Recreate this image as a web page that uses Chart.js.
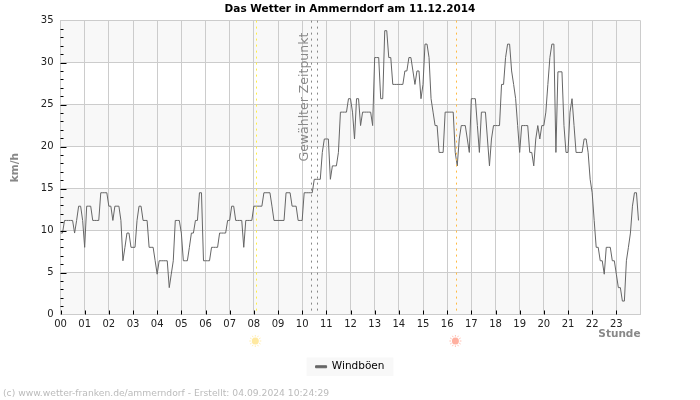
<!DOCTYPE html>
<html>
<head>
<meta charset="utf-8">
<title>Das Wetter in Ammerndorf</title>
<script src="https://cdn.jsdelivr.net/npm/chart.js@4/dist/chart.umd.min.js"></script>
<style>
  html, body { margin: 0; padding: 0; background: #fff; }
  #wrap { position: relative; width: 700px; height: 400px; }
</style>
</head>
<body>
<div id="wrap"><canvas id="myChart" width="700" height="400"></canvas></div>
<script>
// one value every 5 minutes, 12 per row = one hour
var gusts = [
  9.7, 9.7, 11.2, 11.2, 11.2, 11.2, 11.2, 9.7, 11.2, 12.9, 12.9, 11.2,
  8, 12.9, 12.9, 12.9, 11.2, 11.2, 11.2, 11.2, 14.5, 14.5, 14.5, 14.5,
  12.9, 12.9, 11.2, 12.9, 12.9, 12.9, 11.2, 6.4, 8, 9.7, 9.7, 8,
  8, 8, 11.2, 12.9, 12.9, 11.2, 11.2, 11.2, 8, 8, 8, 6.4,
  4.8, 6.4, 6.4, 6.4, 6.4, 6.4, 3.2, 4.8, 6.4, 11.2, 11.2, 11.2,
  9.7, 6.4, 6.4, 6.4, 8, 9.7, 9.7, 11.2, 11.2, 14.5, 14.5, 6.4,
  6.4, 6.4, 6.4, 8, 8, 8, 8, 9.7, 9.7, 9.7, 9.7, 11.2,
  11.2, 12.9, 12.9, 11.2, 11.2, 11.2, 11.2, 8, 11.2, 11.2, 11.2, 11.2,
  12.9, 12.9, 12.9, 12.9, 12.9, 14.5, 14.5, 14.5, 14.5, 12.9, 11.2, 11.2,
  11.2, 11.2, 11.2, 11.2, 14.5, 14.5, 14.5, 12.9, 12.9, 12.9, 11.2, 11.2,
  11.2, 14.5, 14.5, 14.5, 14.5, 14.5, 16.1, 16.1, 16.1, 16.1, 19.3, 20.9,
  20.9, 20.9, 16.1, 17.7, 17.7, 17.7, 19.3, 24.1, 24.1, 24.1, 24.1, 25.7,
  25.7, 24.1, 20.9, 25.7, 25.7, 22.5, 24.1, 24.1, 24.1, 24.1, 24.1, 22.5,
  30.6, 30.6, 30.6, 25.7, 25.7, 33.8, 33.8, 30.6, 30.6, 27.4, 27.4, 27.4,
  27.4, 27.4, 27.4, 29, 29, 30.6, 30.6, 29, 27.4, 29, 29, 25.7,
  27.4, 32.2, 32.2, 30.6, 25.7, 24.1, 22.5, 22.5, 19.3, 19.3, 19.3, 24.1,
  24.1, 24.1, 24.1, 24.1, 19.3, 17.7, 20.9, 22.5, 22.5, 22.5, 20.9, 19.3,
  25.7, 25.7, 25.7, 22.5, 19.3, 24.1, 24.1, 24.1, 20.9, 17.7, 20.9, 22.5,
  22.5, 22.5, 22.5, 27.4, 27.4, 30.6, 32.2, 32.2, 29, 27.4, 25.7, 22.5,
  19.3, 22.5, 22.5, 22.5, 22.5, 19.3, 19.3, 17.7, 20.9, 22.5, 20.9, 22.5,
  22.5, 24.1, 27.4, 30.6, 32.2, 32.2, 19.3, 28.9, 28.9, 28.9, 22.5, 19.3,
  19.3, 24.1, 25.7, 22.5, 19.3, 19.3, 19.3, 19.3, 20.9, 20.9, 19.3, 16.1,
  14.5, 11.2, 8, 8, 6.4, 6.4, 4.8, 8, 8, 8, 6.4, 6.4,
  4.8, 3.2, 3.2, 1.6, 1.6, 6.4, 8, 9.7, 12.9, 14.5, 14.5, 11.2
];
var greyBands = [[30, 35], [20, 25], [10, 15], [0, 5]];
var selectedTimes = [10.36, 10.62];
var sunrise = 8.09;
var sunset = 16.37;

var points = gusts.map(function (v, i) {
  return { x: i / 12, y: v };
});

function pad2(h) {
  return h < 10 ? '0' + h : '' + h;
}

function drawSun(ctx, x, y, color) {
  ctx.save();
  ctx.strokeStyle = color;
  ctx.fillStyle = color;
  ctx.lineWidth = 0.8;
  ctx.beginPath();
  ctx.arc(x, y, 3.5, 0, Math.PI * 2);
  ctx.fill();
  for (var a = 0; a < 12; a++) {
    var ang = a * Math.PI / 6;
    ctx.beginPath();
    ctx.moveTo(x + Math.cos(ang) * 4.4, y + Math.sin(ang) * 4.4);
    ctx.lineTo(x + Math.cos(ang) * 6, y + Math.sin(ang) * 6);
    ctx.stroke();
  }
  ctx.restore();
}

var decoration = {
  id: 'decoration',
  beforeDraw: function (chart) {
    var ctx = chart.ctx, area = chart.chartArea, yScale = chart.scales.y;
    ctx.save();
    ctx.fillStyle = '#f8f8f8';
    greyBands.forEach(function (b) {
      var top = yScale.getPixelForValue(b[1]);
      var bottom = yScale.getPixelForValue(b[0]);
      ctx.fillRect(area.left, top, area.right - area.left, bottom - top);
    });
    // legend background around the single entry
    var hit = chart.legend.legendHitBoxes[0];
    ctx.fillRect(hit.left - 9, hit.top - 4, hit.width + 18, hit.height + 8);
    ctx.restore();
  },
  afterDatasetsDraw: function (chart) {
    var ctx = chart.ctx, area = chart.chartArea;
    var xScale = chart.scales.x, yScale = chart.scales.y;
    ctx.save();

    // inward tick marks
    ctx.strokeStyle = '#000';
    ctx.lineWidth = 1;
    yScale.ticks.forEach(function (t) {
      if (t.value === 35 || t.value === 0) return;
      var y = Math.round(yScale.getPixelForValue(t.value)) + 0.5;
      ctx.beginPath();
      ctx.moveTo(area.left, y);
      ctx.lineTo(area.left + (t.value % 5 ? 3 : 6), y);
      ctx.stroke();
    });
    xScale.ticks.forEach(function (t) {
      if (t.value === 24) return;
      var x = Math.round(xScale.getPixelForValue(t.value)) + 0.5;
      ctx.beginPath();
      ctx.moveTo(x, area.bottom);
      ctx.lineTo(x, area.bottom - 4);
      ctx.stroke();
    });

    // dotted marker lines
    function vline(value, color) {
      var x = Math.round(xScale.getPixelForValue(value)) + 0.5;
      ctx.strokeStyle = color;
      ctx.setLineDash([2, 4]);
      ctx.beginPath();
      ctx.moveTo(x, area.top);
      ctx.lineTo(x, area.bottom);
      ctx.stroke();
    }
    selectedTimes.forEach(function (t) { vline(t, '#888'); });
    vline(sunrise, '#ffee44');
    vline(sunset, '#ffbb44');
    ctx.setLineDash([]);

    // label of the selected time
    ctx.translate(xScale.getPixelForValue(selectedTimes[0]) - 6.5, area.top + 76.5);
    ctx.rotate(-Math.PI / 2);
    ctx.font = '12.5px "DejaVu Sans"';
    ctx.fillStyle = '#888';
    ctx.textAlign = 'center';
    ctx.textBaseline = 'middle';
    ctx.fillText('Gewählter Zeitpunkt', 0, 0);
    ctx.restore();

    drawSun(ctx, xScale.getPixelForValue(sunrise) - 0.7, 341, '#ffe9a0');
    drawSun(ctx, xScale.getPixelForValue(sunset) - 0.7, 341, '#ffb0a0');

    ctx.save();
    ctx.font = '9.2px "DejaVu Sans"';
    ctx.fillStyle = '#bbb';
    ctx.textBaseline = 'middle';
    ctx.fillText('(c) www.wetter-franken.de/ammerndorf - Erstellt: 04.09.2024 10:24:29', 3, 393.5);
    ctx.restore();
  }
};

var ctx = document.getElementById('myChart').getContext('2d');
Chart.defaults.font.family = '"DejaVu Sans"';
Chart.defaults.font.size = 10;

var myChart = new Chart(ctx, {
  type: 'line',
  plugins: [decoration],
  data: {
    datasets: [{
      label: 'Windböen',
      data: points,
      borderColor: '#666',
      backgroundColor: '#666',
      borderWidth: 1,
      pointRadius: 0,
      tension: 0,
      yAxisID: 'y'
    }]
  },
  options: {
    responsive: false,
    animation: false,
    layout: { padding: { top: 0, right: 0, bottom: 18, left: 0 } },
    plugins: {
      title: {
        display: true,
        text: 'Das Wetter in Ammerndorf am 11.12.2014',
        color: '#000',
        font: { size: 10.5, weight: 'bold' },
        padding: { top: 3, bottom: 5 }
      },
      legend: {
        position: 'bottom',
        labels: {
          boxWidth: 11,
          boxHeight: 2,
          padding: 9,
          color: '#000',
          font: { size: 10.5 }
        }
      },
      tooltip: { enabled: false }
    },
    scales: {
      x: {
        type: 'linear',
        min: 0,
        max: 24,
        afterFit: function (s) { s.height = 38; },
        title: {
          display: true,
          text: 'Stunde',
          align: 'end',
          color: '#888',
          font: { size: 10.5, weight: 'bold' },
          padding: { top: 0, bottom: 12 }
        },
        border: { color: '#ccc' },
        grid: { color: '#ccc', drawTicks: false },
        ticks: {
          stepSize: 1,
          autoSkip: false,
          maxRotation: 0,
          color: '#222',
          padding: 4,
          callback: function (v) { return v === 24 ? '' : pad2(v); }
        }
      },
      y: {
        min: 0,
        max: 35,
        afterFit: function (s) { s.width = 60.5; },
        title: {
          display: true,
          text: 'km/h',
          color: '#888',
          font: { size: 10.5, weight: 'bold' },
          padding: { top: 9, bottom: 0 }
        },
        border: { color: '#ccc' },
        grid: {
          drawTicks: false,
          color: function (c) { return c.tick.value % 5 ? 'transparent' : '#ccc'; }
        },
        ticks: {
          stepSize: 1,
          autoSkip: false,
          color: '#222',
          padding: 7,
          callback: function (v) { return v % 5 ? '' : v; }
        }
      },
      // empty right axis, keeps title and legend centred on the whole canvas
      margin: {
        position: 'right',
        min: 0,
        max: 35,
        afterFit: function (s) { s.width = 59.5; },
        border: { display: false },
        grid: { display: false },
        ticks: { display: false }
      }
    }
  }
});
</script>
</body>
</html>
